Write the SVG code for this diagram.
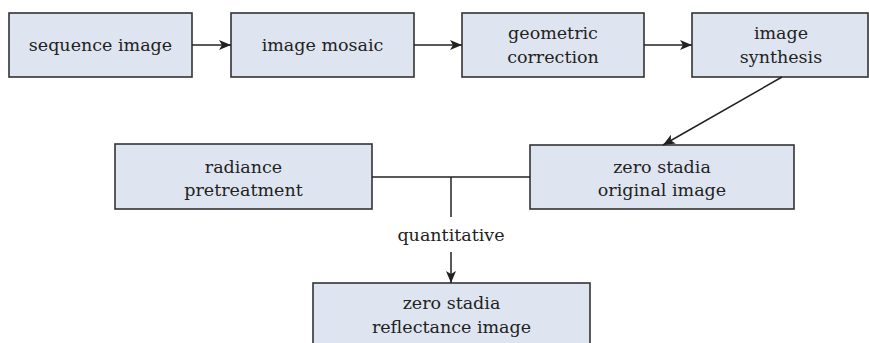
<svg xmlns="http://www.w3.org/2000/svg" width="869" height="343" viewBox="0 0 869 343">
<defs>
<marker id="ah" viewBox="0 0 12 10" refX="12" refY="5" markerWidth="12" markerHeight="10" markerUnits="userSpaceOnUse" orient="auto">
<path d="M0,0 L12,5 L0,10 L3,5 Z" fill="#222"/>
</marker>
<style>
.box{fill:#dfe5f0;stroke:#333;stroke-width:1.6}
.t{font-family:"DejaVu Serif","Liberation Serif",serif;font-size:17.5px;fill:#222;text-anchor:middle}
.c{stroke:#222;stroke-width:1.5;fill:none}
</style>
</defs>
<rect width="869" height="343" fill="#fff"/>
<g id="n1"><rect class="box" x="9" y="13" width="183" height="64"/><text class="t" x="100.5" y="51">sequence image</text></g>
<g id="n2"><rect class="box" x="231" y="13" width="183" height="64"/><text class="t" x="322.5" y="51">image mosaic</text></g>
<g id="n3"><rect class="box" x="462" y="13" width="182" height="64"/><text class="t" x="553" y="39">geometric</text><text class="t" x="553" y="63">correction</text></g>
<g id="n4"><rect class="box" x="692" y="13" width="176" height="64"/><text class="t" x="781" y="39">image</text><text class="t" x="781" y="63">synthesis</text></g>
<g id="n5"><rect class="box" x="530" y="145" width="264" height="64"/><text class="t" x="662" y="173">zero stadia</text><text class="t" x="662" y="196">original image</text></g>
<g id="n6"><rect class="box" x="115" y="144" width="257" height="65"/><text class="t" x="243.5" y="173">radiance</text><text class="t" x="243.5" y="196">pretreatment</text></g>
<g id="n7"><rect class="box" x="313" y="283" width="277" height="70"/><text class="t" x="451.5" y="309">zero stadia</text><text class="t" x="451.5" y="333">reflectance image</text></g>
<g id="connectors">
<line class="c" x1="192" y1="45" x2="231" y2="45" marker-end="url(#ah)"/>
<line class="c" x1="414" y1="45" x2="462" y2="45" marker-end="url(#ah)"/>
<line class="c" x1="644" y1="45" x2="692" y2="45" marker-end="url(#ah)"/>
<line class="c" x1="782" y1="77" x2="663" y2="145" marker-end="url(#ah)"/>
<line class="c" x1="372" y1="177" x2="530" y2="177"/>
<line class="c" x1="451" y1="177" x2="451" y2="217"/>
<text class="t" x="451" y="241">quantitative</text>
<line class="c" x1="451" y1="252" x2="451" y2="283" marker-end="url(#ah)"/>
</g>
</svg>
